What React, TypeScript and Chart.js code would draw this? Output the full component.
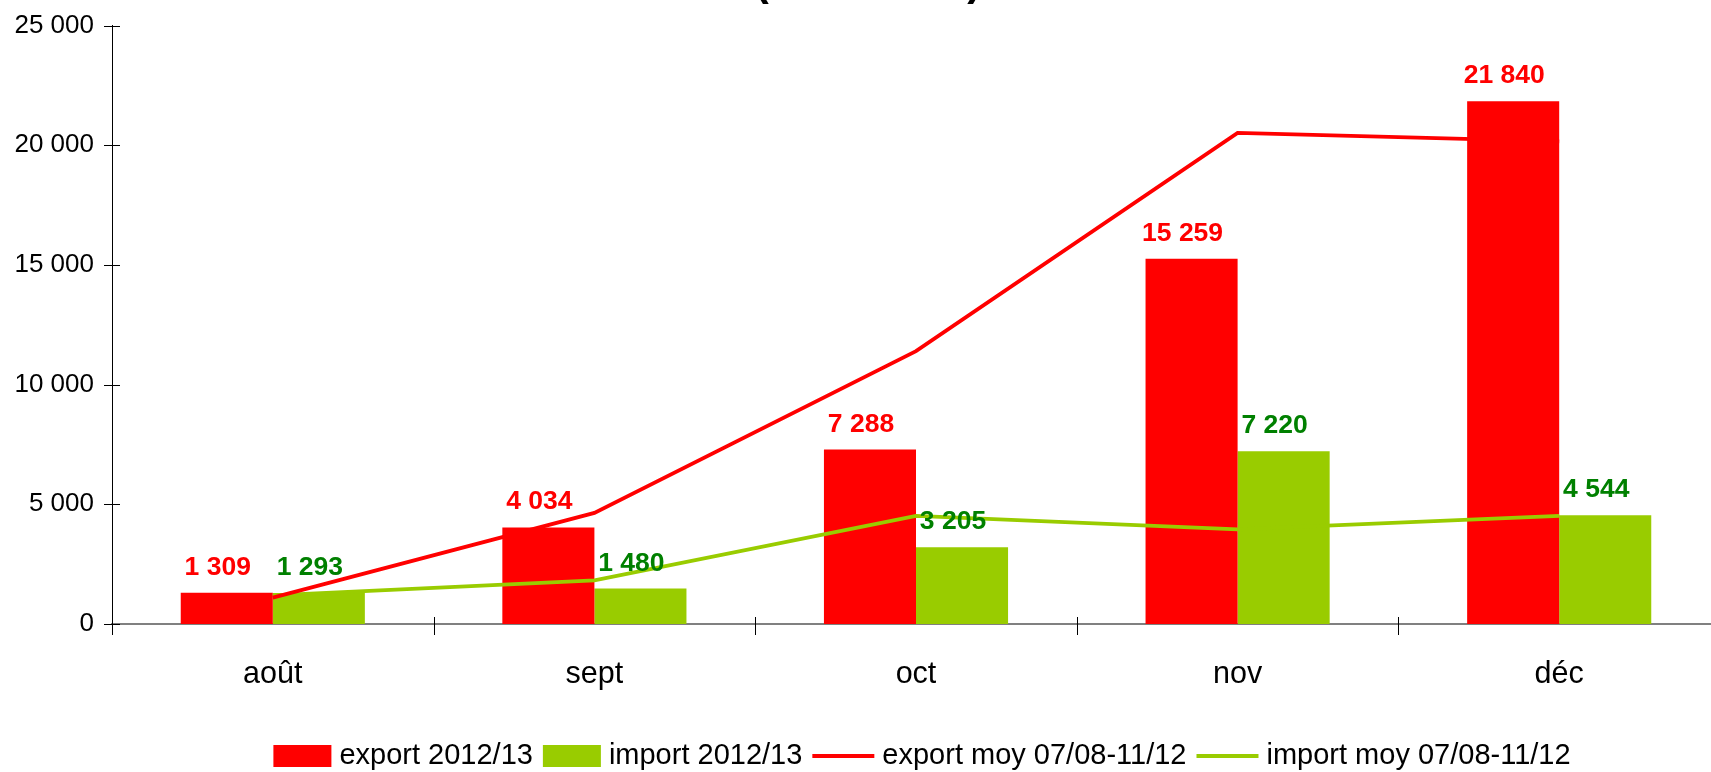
import React, { useEffect, useRef } from "react";
import { Chart, registerables } from "chart.js";

Chart.register(...registerables);

const categories = ["août", "sept", "oct", "nov", "déc"];
const export2012 = [1309, 4034, 7288, 15259, 21840];
const import2012 = [1293, 1480, 3205, 7220, 4544];
const exportMoy = [1100, 4640, 11400, 20520, 20160];
const importMoy = [1200, 1820, 4520, 3950, 4520];
const yTickValues = [0, 5000, 10000, 15000, 20000, 25000];
const seriesLabels = [
  "export 2012/13",
  "import 2012/13",
  "export moy 07/08-11/12",
  "import moy 07/08-11/12",
];
const titleText = "(en tonnes)";

const RED = "#FF0000";
const GREEN = "#99CC00";
const DARK_GREEN = "#008000";
const FONT = '"Liberation Sans", Arial, sans-serif';
const OFF = 8; // canvas is shifted up by this many px

const fmt = (v: number) =>
  Math.round(v)
    .toString()
    .replace(/\B(?=(\d{3})+(?!\d))/g, " ");

const titlePlugin = {
  id: "clippedTitle",
  afterDraw(chart: any) {
    const { ctx, chartArea } = chart;
    ctx.save();
    ctx.font = `bold 42px ${FONT}`;
    ctx.fillStyle = "#000";
    ctx.textAlign = "center";
    ctx.textBaseline = "alphabetic";
    ctx.fillText(titleText, (chartArea.left + chartArea.right) / 2 - 48, OFF - 5);
    ctx.restore();
  },
};

const tickMarksPlugin = {
  id: "tickMarks",
  afterDraw(chart: any) {
    const { ctx, chartArea } = chart;
    const xs = chart.scales.x;
    const ys = chart.scales.y;
    ctx.save();
    ctx.strokeStyle = "#000";
    ctx.lineWidth = 1;
    ctx.beginPath();
    ys.ticks.forEach((t: any) => {
      const y = Math.round(ys.getPixelForValue(t.value)) + 0.5;
      ctx.moveTo(chartArea.left - 8, y);
      ctx.lineTo(chartArea.left + 8, y);
    });
    const x0 = xs.getPixelForValue(0);
    const w = xs.getPixelForValue(1) - x0;
    for (let i = 0; i <= categories.length; i++) {
      const x = Math.round(x0 + (i - 0.5) * w) + 0.5;
      ctx.moveTo(x, chartArea.bottom - 7);
      ctx.lineTo(x, chartArea.bottom + 11);
    }
    ctx.stroke();
    ctx.restore();
  },
};

const valueLabelsPlugin = {
  id: "valueLabels",
  afterDatasetsDraw(chart: any) {
    const { ctx } = chart;
    ctx.save();
    ctx.font = `bold 26.5px ${FONT}`;
    ctx.textAlign = "center";
    ctx.textBaseline = "alphabetic";
    [0, 1].forEach((di) => {
      const meta = chart.getDatasetMeta(di);
      const ds = chart.data.datasets[di];
      ctx.fillStyle = di === 0 ? RED : DARK_GREEN;
      meta.data.forEach((el: any, i: number) => {
        ctx.fillText(fmt(ds.data[i] as number), el.x - 9, el.y - 18);
      });
    });
    ctx.restore();
  },
};

const legendPlugin = {
  id: "customLegend",
  afterDraw(chart: any) {
    const { ctx, chartArea } = chart;
    ctx.save();
    ctx.font = `29px ${FONT}`;
    ctx.textBaseline = "alphabetic";
    ctx.textAlign = "left";
    const items = chart.data.datasets.map((ds: any) => ({
      label: ds.label,
      type: ds.type,
      color: ds.type === "line" ? ds.borderColor : ds.backgroundColor,
      markerW: ds.type === "line" ? 62 : 58,
      textW: ctx.measureText(ds.label).width,
    }));
    const gapBox = 8;
    const gapItem = 10;
    let total = 0;
    items.forEach((it: any, i: number) => {
      total += it.markerW + gapBox + it.textW + (i < items.length - 1 ? gapItem : 0);
    });
    let x = (chartArea.left + chartArea.right) / 2 + 6 - total / 2;
    const baseline = 764 + OFF;
    items.forEach((it: any) => {
      if (it.type === "line") {
        ctx.strokeStyle = it.color;
        ctx.lineWidth = 4;
        ctx.beginPath();
        ctx.moveTo(x, 756 + OFF);
        ctx.lineTo(x + it.markerW, 756 + OFF);
        ctx.stroke();
      } else {
        ctx.fillStyle = it.color;
        ctx.fillRect(x, 745 + OFF, it.markerW, 22);
      }
      x += it.markerW + gapBox;
      ctx.fillStyle = "#000";
      ctx.fillText(it.label, x, baseline);
      x += it.textW + gapItem;
    });
    ctx.restore();
  },
};

export default function App() {
  const canvasRef = useRef<HTMLCanvasElement | null>(null);

  useEffect(() => {
    if (!canvasRef.current) return;
    Chart.defaults.font.family = FONT;
    const chart = new Chart(canvasRef.current, {
      type: "bar",
      data: {
        labels: categories,
        datasets: [
          {
            type: "bar",
            label: seriesLabels[0],
            data: export2012,
            backgroundColor: RED,
            borderWidth: 0,
            categoryPercentage: 0.5725,
            barPercentage: 1,
            order: 2,
          },
          {
            type: "bar",
            label: seriesLabels[1],
            data: import2012,
            backgroundColor: GREEN,
            borderWidth: 0,
            categoryPercentage: 0.5725,
            barPercentage: 1,
            order: 2,
          },
          {
            type: "line",
            label: seriesLabels[2],
            data: exportMoy,
            borderColor: RED,
            backgroundColor: RED,
            borderWidth: 3.8,
            pointRadius: 0,
            tension: 0,
            fill: false,
            order: 1,
          },
          {
            type: "line",
            label: seriesLabels[3],
            data: importMoy,
            borderColor: GREEN,
            backgroundColor: GREEN,
            borderWidth: 3.8,
            pointRadius: 0,
            tension: 0,
            fill: false,
            order: 1,
          },
        ] as any,
      },
      options: {
        animation: false,
        responsive: true,
        maintainAspectRatio: false,
        layout: { autoPadding: false, padding: { left: 0, right: 10, top: 18, bottom: 0 } },
        plugins: {
          legend: { display: false },
          tooltip: { enabled: false },
          title: { display: false },
        },
        scales: {
          x: {
            type: "category",
            offset: true,
            grid: { display: false, drawTicks: false },
            border: { display: true, color: "#808080", width: 2 },
            ticks: {
              color: "#000",
              font: { family: FONT, size: 30.5 },
              padding: 32,
              maxRotation: 0,
              autoSkip: false,
            },
            afterFit: (s: any) => {
              s.height = 148;
            },
          },
          y: {
            min: 0,
            max: 25000,
            afterBuildTicks: (s: any) => {
              s.ticks = yTickValues.map((v) => ({ value: v }));
            },
            grid: { display: false, drawTicks: false },
            border: { display: true, color: "#000", width: 1 },
            ticks: {
              color: "#000",
              font: { family: FONT, size: 26 },
              padding: 18,
              callback: (v: any) => fmt(Number(v)),
            },
            afterFit: (s: any) => {
              s.width = 112;
            },
          },
        },
      } as any,
      plugins: [titlePlugin, tickMarksPlugin, valueLabelsPlugin, legendPlugin],
    });
    return () => chart.destroy();
  }, []);

  return (
    <div
      style={{
        position: "fixed",
        left: 0,
        top: 0,
        width: 1711,
        height: 772,
        overflow: "hidden",
        background: "#fff",
      }}
    >
      <div style={{ position: "absolute", left: 0, top: -OFF, width: 1730, height: 772 + OFF }}>
        <canvas ref={canvasRef} />
      </div>
    </div>
  );
}
